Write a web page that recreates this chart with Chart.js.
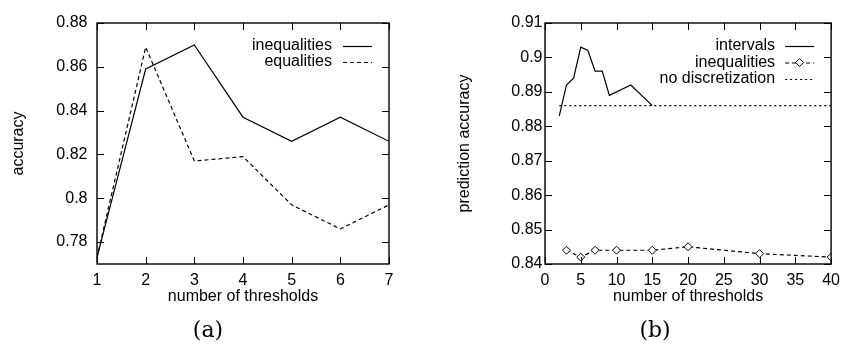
<!DOCTYPE html>
<html><head><meta charset="utf-8">
<script src="https://cdn.jsdelivr.net/npm/chart.js@4"></script>
<style>
html,body{margin:0;padding:0;background:#fff;}
#wrap{position:relative;width:847px;height:344px;overflow:hidden;background:#fff;}
.cv{position:absolute;top:0;height:344px;}
.cap{position:absolute;font-family:"DejaVu Serif",serif;font-size:22px;line-height:24px;color:#000;transform:translateX(-50%);white-space:nowrap;}
</style></head><body>
<div id="wrap">
<div class="cv" style="left:0;width:420px"><canvas id="ca"></canvas></div>
<div class="cv" style="left:420px;width:427px"><canvas id="cb"></canvas></div>
<div class="cap" style="left:208px;top:318px">(a)</div>
<div class="cap" style="left:655px;top:318px">(b)</div>
</div>
<script>
// ---- data: chart (a)
const thresholdsA = [1, 2, 3, 4, 5, 6, 7];
const inequalitiesA = [0.773, 0.859, 0.870, 0.837, 0.826, 0.837, 0.826];
const equalitiesA = [0.773, 0.869, 0.817, 0.819, 0.797, 0.786, 0.797];
const xTicksA = [1, 2, 3, 4, 5, 6, 7];
const yTicksA = [0.78, 0.80, 0.82, 0.84, 0.86, 0.88];

// ---- data: chart (b)
const intervalsX = [2, 3, 4, 5, 6, 7, 8, 9, 12, 15];
const intervalsY = [0.883, 0.892, 0.894, 0.903, 0.902, 0.896, 0.896, 0.889, 0.892, 0.886];
const inequalitiesBX = [3, 5, 7, 10, 15, 20, 30, 40];
const inequalitiesBY = [0.844, 0.842, 0.844, 0.844, 0.844, 0.845, 0.843, 0.842];
const noDiscX = [2, 40];
const noDiscY = [0.886, 0.886];
const xTicksB = [0, 5, 10, 15, 20, 25, 30, 35, 40];
const yTicksB = [0.84, 0.85, 0.86, 0.87, 0.88, 0.89, 0.90, 0.91];

const FONT = {family: '"Liberation Sans", Arial, sans-serif', size: 16};
const fmt = v => String(+(+v).toFixed(3));
const pts = (xs, ys) => xs.map((x, i) => ({x: x, y: ys[i]}));

const frameTicks = {
  id: 'frameTicks',
  afterDatasetsDraw(chart) {
    const {ctx, chartArea: a} = chart;
    const xs = chart.scales.x, ys = chart.scales.y;
    const L = 7;
    ctx.save();
    ctx.strokeStyle = '#000';
    ctx.lineWidth = 1;
    ctx.setLineDash([]);
    ctx.beginPath();
    xs.ticks.forEach(t => {
      const p = Math.round(xs.getPixelForValue(t.value)) + 0.5;
      ctx.moveTo(p, a.bottom); ctx.lineTo(p, a.bottom - L);
      ctx.moveTo(p, a.top); ctx.lineTo(p, a.top + L);
    });
    ys.ticks.forEach(t => {
      const p = Math.round(ys.getPixelForValue(t.value)) + 0.5;
      ctx.moveTo(a.left, p); ctx.lineTo(a.left + L, p);
      ctx.moveTo(a.right, p); ctx.lineTo(a.right - L, p);
    });
    ctx.stroke();
    ctx.lineWidth = 1.4;
    ctx.strokeRect(a.left, a.top, a.right - a.left, a.bottom - a.top);
    ctx.restore();
  }
};

const keyPlugin = {
  id: 'keyPlugin',
  afterDatasetsDraw(chart, args, o) {
    const {ctx, chartArea: a} = chart;
    ctx.save();
    ctx.font = '16px ' + FONT.family;
    ctx.fillStyle = '#000';
    ctx.textAlign = 'right';
    ctx.textBaseline = 'middle';
    chart.data.datasets.forEach((ds, i) => {
      const y = a.top + o.firstRow + i * o.rowGap;
      ctx.fillText(ds.label, a.right + o.textRight, y);
      const x1 = a.right + o.sampleLeft, x2 = a.right + o.sampleRight;
      ctx.strokeStyle = '#000';
      ctx.lineWidth = ds.borderWidth;
      ctx.setLineDash(ds.borderDash || []);
      ctx.beginPath();
      ctx.moveTo(x1, y + 0.5); ctx.lineTo(x2, y + 0.5);
      ctx.stroke();
      ctx.setLineDash([]);
      if (ds.pointRadius > 0) {
        const r = ds.pointRadius, cx = (x1 + x2) / 2;
        ctx.fillStyle = '#fff';
        ctx.lineWidth = 1;
        ctx.beginPath();
        ctx.moveTo(cx, y - r); ctx.lineTo(cx + r, y); ctx.lineTo(cx, y + r); ctx.lineTo(cx - r, y);
        ctx.closePath(); ctx.fill(); ctx.stroke();
        ctx.fillStyle = '#000';
      }
    });
    ctx.restore();
  }
};

function scales(xmin, xmax, xt, ymin, ymax, yt, yWidth, yLabelPad, yTitle, yTitlePad) {
  return {
    x: {
      type: 'linear', min: xmin, max: xmax,
      afterBuildTicks: s => { s.ticks = xt.map(v => ({value: v})); },
      afterFit: s => { s.height = 50; },
      grid: {display: false, drawTicks: false}, border: {display: false},
      ticks: {padding: 7, color: '#000', font: FONT, maxRotation: 0, autoSkip: false, callback: v => fmt(v)},
      title: {display: true, text: 'number of thresholds', color: '#000', font: FONT, padding: {top: 0, bottom: 8}}
    },
    y: {
      type: 'linear', min: ymin, max: ymax,
      afterBuildTicks: s => { s.ticks = yt.map(v => ({value: v})); },
      afterFit: s => { s.width = yWidth; },
      grid: {display: false, drawTicks: false}, border: {display: false},
      ticks: {padding: yLabelPad, color: '#000', font: FONT, autoSkip: false, callback: v => fmt(v)},
      title: {display: true, text: yTitle, color: '#000', font: FONT, padding: {top: yTitlePad, bottom: 0}}
    }
  };
}

new Chart(document.getElementById('ca'), {
  type: 'line',
  data: {
    datasets: [
      {label: 'inequalities', data: pts(thresholdsA, inequalitiesA), borderColor: '#000', borderWidth: 1.2, pointRadius: 0, tension: 0, fill: false},
      {label: 'equalities', data: pts(thresholdsA, equalitiesA), borderColor: '#000', borderWidth: 1.2, borderDash: [4, 3], pointRadius: 0, tension: 0, fill: false}
    ]
  },
  options: {
    responsive: true, maintainAspectRatio: false, animation: false,
    layout: {padding: {left: 0, top: 23, right: 31, bottom: 30}},
    plugins: {legend: {display: false}, tooltip: {enabled: false},
      keyPlugin: {firstRow: 23, rowGap: 16, textRight: -57, sampleLeft: -46, sampleRight: -17}},
    scales: scales(1, 7, xTicksA, 0.77, 0.88, yTicksA, 97, 9.5, 'accuracy', 8.7)
  },
  plugins: [frameTicks, keyPlugin]
});

new Chart(document.getElementById('cb'), {
  type: 'line',
  data: {
    datasets: [
      {label: 'intervals', data: pts(intervalsX, intervalsY), borderColor: '#000', borderWidth: 1.2, pointRadius: 0, tension: 0, fill: false},
      {label: 'inequalities', data: pts(inequalitiesBX, inequalitiesBY), borderColor: '#000', borderWidth: 1.2, borderDash: [4, 3],
        pointStyle: 'rectRot', pointRadius: 4, pointBorderWidth: 1, pointBackgroundColor: '#fff', pointBorderColor: '#000', tension: 0, fill: false},
      {label: 'no discretization', data: pts(noDiscX, noDiscY), borderColor: '#000', borderWidth: 1.2, borderDash: [2, 3], pointRadius: 0, tension: 0, fill: false}
    ]
  },
  options: {
    responsive: true, maintainAspectRatio: false, animation: false,
    layout: {padding: {left: 0, top: 23, right: 10, bottom: 30}},
    plugins: {legend: {display: false}, tooltip: {enabled: false},
      keyPlugin: {firstRow: 23, rowGap: 16.5, textRight: -56, sampleLeft: -46, sampleRight: -17}},
    scales: scales(0, 40, xTicksB, 0.84, 0.91, yTicksB, 125, 2.5, 'prediction accuracy', 35.4)
  },
  plugins: [frameTicks, keyPlugin]
});
</script>
</body></html>
